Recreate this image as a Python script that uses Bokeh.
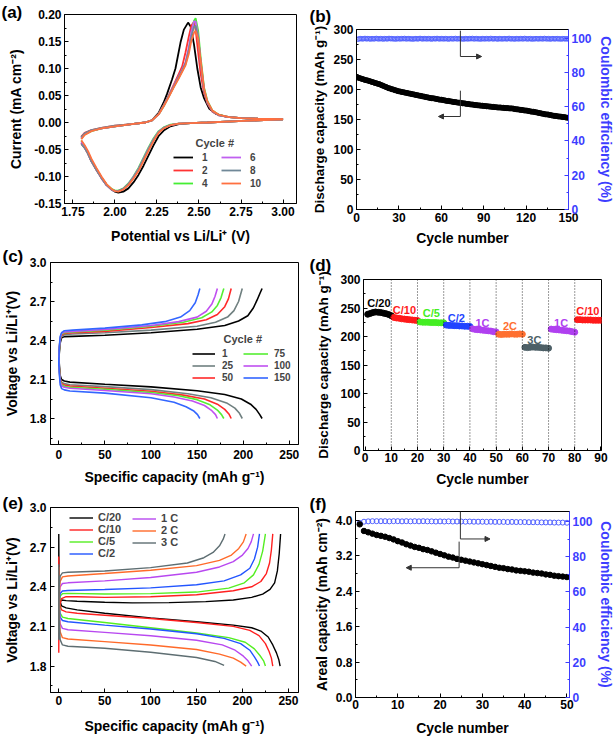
from bokeh.plotting import figure
from bokeh.models import (Range1d, LinearAxis, FixedTicker, Legend, LegendItem,
                          Label, Arrow, NormalHead, Span)
from bokeh.layouts import row, column
from bokeh.embed import file_html
from bokeh.resources import INLINE
from bokeh.core.properties import value

FONT = "Liberation Sans"
BLUE = "#3d3dff"
ARROW = "#333333"

# ---------------- (a) cyclic voltammetry ----------------
cv_labels = ["1", "2", "4", "6", "8", "10"]
cv_colors = ["#000000", "#ff3333", "#44ee33", "#c060f0", "#708898", "#ff7040"]
ox_v_1 = [1.80, 1.82, 1.86, 1.92, 2.00, 2.10, 2.18, 2.22, 2.26, 2.29, 2.31, 2.34, 2.36, 2.39,
          2.41, 2.435, 2.45, 2.47, 2.49, 2.51, 2.53, 2.56, 2.60, 2.66, 2.75, 2.85, 3.00]
ox_i_1 = [-0.028, -0.020, -0.015, -0.011, -0.007, -0.003, 0.000, 0.004, 0.018, 0.037, 0.053,
          0.080, 0.100, 0.148, 0.172, 0.185, 0.178, 0.145, 0.100, 0.065, 0.045, 0.026, 0.016,
          0.011, 0.008, 0.007, 0.006]
ox_v = [1.80, 1.82, 1.86, 1.92, 2.00, 2.10, 2.18, 2.22, 2.26, 2.29, 2.32, 2.35, 2.38, 2.40, 2.42,
        2.44, 2.455, 2.47, 2.48, 2.495, 2.51, 2.53, 2.55, 2.58, 2.62, 2.68, 2.75, 2.85, 3.00]
ox_i_2 = [-0.026, -0.019, -0.014, -0.010, -0.006, -0.003, 0.000, 0.004, 0.016, 0.032, 0.050, 0.070,
          0.090, 0.104, 0.130, 0.160, 0.180, 0.186, 0.172, 0.130, 0.090, 0.055, 0.035, 0.020, 0.013,
          0.010, 0.008, 0.007, 0.006]
ox_i_4 = [-0.030, -0.022, -0.016, -0.011, -0.007, -0.003, 0.000, 0.004, 0.015, 0.030, 0.048, 0.066,
          0.083, 0.095, 0.108, 0.135, 0.165, 0.188, 0.193, 0.170, 0.120, 0.065, 0.040, 0.022, 0.014,
          0.010, 0.008, 0.007, 0.006]
ox_i_6 = [-0.029, -0.021, -0.015, -0.011, -0.007, -0.003, 0.000, 0.004, 0.015, 0.031, 0.049, 0.068,
          0.086, 0.098, 0.112, 0.140, 0.168, 0.187, 0.187, 0.160, 0.112, 0.060, 0.037, 0.021, 0.013,
          0.010, 0.008, 0.007, 0.006]
ox_i_8 = [-0.027, -0.020, -0.014, -0.010, -0.006, -0.003, 0.000, 0.004, 0.016, 0.032, 0.049, 0.067,
          0.085, 0.097, 0.110, 0.135, 0.160, 0.177, 0.179, 0.158, 0.112, 0.060, 0.037, 0.021, 0.013,
          0.010, 0.008, 0.007, 0.006]
ox_i_10 = [-0.031, -0.023, -0.016, -0.011, -0.007, -0.003, 0.000, 0.004, 0.015, 0.030, 0.047, 0.065,
           0.082, 0.094, 0.106, 0.128, 0.152, 0.166, 0.170, 0.155, 0.115, 0.063, 0.039, 0.022, 0.014,
           0.010, 0.008, 0.007, 0.006]
red_v = [3.00, 2.85, 2.70, 2.55, 2.45, 2.38, 2.33, 2.29, 2.26, 2.23, 2.20, 2.17, 2.14, 2.11, 2.08,
         2.05, 2.02, 2.00, 1.98, 1.95, 1.92, 1.89, 1.86, 1.84, 1.82, 1.80]
red_i_1 = [0.006, 0.004, 0.002, 0.000, -0.001, -0.003, -0.007, -0.015, -0.025, -0.042, -0.061, -0.080,
           -0.097, -0.111, -0.122, -0.128, -0.130, -0.128, -0.124, -0.115, -0.102, -0.087, -0.071,
           -0.057, -0.046, -0.038]
red_i_2 = [0.006, 0.004, 0.002, 0.000, -0.001, -0.002, -0.005, -0.010, -0.018, -0.032, -0.050, -0.069,
           -0.088, -0.102, -0.115, -0.123, -0.127, -0.127, -0.124, -0.116, -0.103, -0.088, -0.072,
           -0.058, -0.047, -0.039]
red_i_4 = [0.006, 0.004, 0.002, 0.000, -0.001, -0.002, -0.004, -0.009, -0.016, -0.029, -0.046, -0.065,
           -0.084, -0.100, -0.113, -0.122, -0.126, -0.126, -0.123, -0.115, -0.102, -0.086, -0.070,
           -0.056, -0.044, -0.034]
red_i_6 = [0.006, 0.004, 0.002, 0.000, -0.001, -0.002, -0.005, -0.010, -0.017, -0.031, -0.048, -0.067,
           -0.086, -0.101, -0.114, -0.123, -0.127, -0.127, -0.124, -0.116, -0.103, -0.087, -0.071,
           -0.057, -0.045, -0.036]
red_i_8 = [0.006, 0.004, 0.002, 0.000, -0.001, -0.002, -0.005, -0.010, -0.018, -0.032, -0.049, -0.068,
           -0.087, -0.102, -0.114, -0.123, -0.127, -0.127, -0.124, -0.116, -0.103, -0.088, -0.072,
           -0.058, -0.047, -0.040]
red_i_10 = [0.006, 0.004, 0.002, 0.000, -0.001, -0.002, -0.005, -0.011, -0.019, -0.034, -0.052, -0.071,
            -0.090, -0.104, -0.116, -0.124, -0.128, -0.127, -0.123, -0.114, -0.100, -0.084, -0.067,
            -0.053, -0.042, -0.033]

# ---------------- (b) long cycling ----------------
b_capacity = [220, 219, 218.5, 217.5, 217, 216, 215.5, 215, 214, 213.5,
              212.5, 212, 211, 210.5, 209.5, 209, 208, 207, 206, 205,
              204, 203, 202, 201.5, 200.5, 200, 199, 198.5, 197.5, 197,
              196.5, 196, 195.5, 195, 194.5, 194, 193.5, 193, 192.5, 192,
              191.5, 191, 190.5, 190, 189.5, 189, 188.5, 188, 187.5, 187,
              186.5, 186, 185.5, 185.5, 185, 184.5, 184, 183.5, 183, 183,
              182.5, 182, 181.5, 181, 181, 180.5, 180, 179.5, 179, 179,
              178.5, 178, 178, 177.5, 177, 177, 176.5, 176, 176, 175.5,
              175, 175, 174.5, 174, 174, 173.5, 173.5, 173, 173, 172.5,
              172.5, 172, 172, 171.5, 171.5, 171, 171, 170.5, 170.5, 170,
              170, 170, 169.5, 169.5, 169, 169, 169, 168.5, 168.5, 168.5,
              168, 167.5, 167, 167, 166.5, 166, 166, 165.5, 165, 165,
              164.5, 164, 163.5, 163, 163, 162.5, 162, 161.5, 161, 160.5,
              160, 159.5, 159, 158.5, 158.5, 158, 157.5, 157, 156.5, 156,
              156, 155.5, 155, 155, 154.5, 154, 154, 153.5, 153, 153]
b_ce = [99.3, 99.6, 99.7, 99.5, 99.6, 99.8, 99.5, 99.7, 99.6, 99.4,
        99.7, 99.5, 99.6, 99.8, 99.6, 99.5, 99.7, 99.6, 99.4, 99.7,
        99.6, 99.5, 99.8, 99.6, 99.7, 99.5, 99.6, 99.4, 99.7, 99.6,
        99.5, 99.7, 99.6, 99.8, 99.5, 99.6, 99.7, 99.5, 99.6, 99.4,
        99.6, 99.7, 99.5, 99.6, 99.8, 99.6, 99.5, 99.7, 99.6, 99.5,
        99.7, 99.6, 99.4, 99.6, 99.7, 99.5, 99.8, 99.6, 99.5, 99.7,
        99.6, 99.5, 99.7, 99.6, 99.4, 99.6, 99.7, 99.5, 99.6, 99.8,
        99.5, 99.6, 99.7, 99.5, 99.6, 99.4, 99.7, 99.6, 99.5, 99.7,
        99.6, 99.8, 99.5, 99.6, 99.7, 99.5, 99.6, 99.4, 99.7, 99.6,
        99.5, 99.7, 99.6, 99.5, 99.8, 99.6, 99.5, 99.7, 99.6, 99.4,
        99.7, 99.6, 99.5, 99.6, 99.7, 99.5, 99.6, 99.8, 99.5, 99.6,
        99.6, 99.4, 99.7, 99.6, 99.5, 99.7, 99.6, 99.5, 99.8, 99.6,
        99.5, 99.6, 99.7, 99.4, 99.6, 99.5, 99.7, 99.6, 99.5, 99.7,
        99.6, 99.5, 99.8, 99.6, 99.5, 99.7, 99.4, 99.6, 99.7, 99.5,
        99.6, 99.7, 99.5, 99.6, 99.4, 99.7, 99.6, 99.5, 99.6, 99.5]
b_cycle = list(range(1, len(b_capacity) + 1))
b_arrow_x = [73.5, 73.5]
b_arrow_top = [298, 198]
b_arrow_bot = [255, 155]
b_arrow_end = [88.5, 58]

# ---------------- (c) voltage profiles at selected cycles ----------------
c_labels = ["1", "25", "50", "75", "100", "150"]
c_colors = ["#000000", "#708080", "#ff2a2a", "#55ee33", "#c050f0", "#3366ff"]
c1_chg_q = [0, 0.5, 1.5, 3, 6, 15, 50, 100, 150, 180, 195, 205, 211, 215, 218, 220.5]
c1_chg_v = [2.20, 2.30, 2.38, 2.42, 2.43, 2.432, 2.44, 2.46, 2.487, 2.515, 2.55, 2.59, 2.65, 2.71, 2.76, 2.80]
c1_dis_q = [0, 0.5, 1.5, 3, 6, 12, 50, 100, 150, 180, 198, 208, 214, 218, 220.5]
c1_dis_v = [2.33, 2.22, 2.13, 2.10, 2.088, 2.08, 2.063, 2.043, 2.013, 1.985, 1.95, 1.91, 1.87, 1.83, 1.80]
c25_chg_q = [0, 0.5, 1.5, 3, 6, 15, 50, 100, 150, 170, 183, 190, 195, 199]
c25_chg_v = [2.20, 2.32, 2.40, 2.43, 2.445, 2.45, 2.46, 2.48, 2.51, 2.54, 2.58, 2.63, 2.70, 2.80]
c25_dis_q = [0, 0.5, 1.5, 3, 6, 12, 50, 100, 140, 165, 182, 191, 196, 199]
c25_dis_v = [2.30, 2.20, 2.11, 2.08, 2.068, 2.06, 2.045, 2.022, 1.99, 1.96, 1.92, 1.88, 1.84, 1.80]
c50_chg_q = [0, 0.5, 1.5, 3, 6, 15, 50, 100, 140, 160, 172, 180, 184, 187]
c50_chg_v = [2.20, 2.33, 2.41, 2.44, 2.455, 2.46, 2.47, 2.50, 2.53, 2.56, 2.60, 2.66, 2.72, 2.80]
c50_dis_q = [0, 0.5, 1.5, 3, 6, 12, 50, 100, 135, 158, 172, 180, 184.5, 187]
c50_dis_v = [2.29, 2.19, 2.10, 2.07, 2.058, 2.05, 2.033, 2.01, 1.98, 1.95, 1.91, 1.87, 1.835, 1.80]
c75_chg_q = [0, 0.5, 1.5, 3, 6, 15, 50, 100, 135, 155, 166, 172, 176, 179]
c75_chg_v = [2.20, 2.33, 2.42, 2.45, 2.46, 2.465, 2.48, 2.51, 2.54, 2.575, 2.62, 2.67, 2.73, 2.80]
c75_dis_q = [0, 0.5, 1.5, 3, 6, 12, 50, 100, 130, 150, 164, 172, 176.5, 179]
c75_dis_v = [2.29, 2.18, 2.09, 2.06, 2.048, 2.04, 2.025, 2.0, 1.975, 1.945, 1.905, 1.865, 1.83, 1.80]
c100_chg_q = [0, 0.5, 1.5, 3, 6, 15, 50, 100, 130, 150, 160, 166, 169.5, 172]
c100_chg_v = [2.20, 2.34, 2.42, 2.455, 2.465, 2.47, 2.485, 2.515, 2.545, 2.58, 2.625, 2.68, 2.74, 2.80]
c100_dis_q = [0, 0.5, 1.5, 3, 6, 12, 50, 100, 125, 145, 158, 166, 170, 172]
c100_dis_v = [2.28, 2.17, 2.08, 2.05, 2.04, 2.033, 2.015, 1.99, 1.965, 1.935, 1.90, 1.86, 1.83, 1.80]
c150_chg_q = [0, 0.5, 1.5, 3, 6, 15, 50, 90, 115, 132, 142, 148, 151, 153]
c150_chg_v = [2.20, 2.35, 2.43, 2.46, 2.475, 2.48, 2.495, 2.52, 2.545, 2.58, 2.63, 2.69, 2.75, 2.80]
c150_dis_q = [0, 0.5, 1.5, 3, 6, 12, 50, 100, 125, 138, 146, 150.5, 153]
c150_dis_v = [2.27, 2.15, 2.06, 2.03, 2.02, 2.012, 1.995, 1.96, 1.925, 1.89, 1.86, 1.83, 1.80]

# ---------------- (d) rate capability ----------------
d_rates = ["C/20", "C/10", "C/5", "C/2", "1C", "2C", "3C", "1C", "C/10"]
d_rate_colors = ["#000000", "#ff1a1a", "#44ee22", "#2244ff", "#b040f0", "#ff7030", "#4d5f66",
                 "#b040f0", "#ff1a1a"]
d_capacity = [239, 240.5, 242, 243, 242.5, 242, 241, 240, 238.5, 236.5,
              233.5, 232.5, 232, 231, 230.5, 230, 229.5, 229, 228.5, 228,
              225.5, 225, 225, 225, 224.5, 224.5, 224.5, 224, 224, 224,
              220, 219.5, 219.5, 219, 219, 218.5, 218.5, 218, 218, 217.5,
              213.5, 212.5, 212, 211.5, 211, 210.5, 210, 209.5, 208.5, 208,
              204, 203.5, 204, 204, 204, 204.5, 204, 204, 204.5, 204,
              181, 180.5, 181, 181.5, 181, 181, 180.5, 180, 180, 179.5,
              213, 212.5, 212, 211.5, 211, 210.5, 210, 209.5, 208.5, 207.5,
              229.5, 229.5, 229, 229, 229, 229, 228.5, 228.5, 228.5, 228.5]
d_cycle = list(range(1, len(d_capacity) + 1))
d_label_x = [5.3, 15, 25.3, 34.8, 44.8, 55.3, 64.6, 74.8, 85]
d_label_y = [259, 247, 241, 232.5, 224.5, 218.5, 194.5, 224.5, 245]
d_dividers = [10, 20, 30, 40, 50, 60, 70, 80]

# ---------------- (e) voltage profiles at different rates ----------------
e_labels = ["C/20", "C/10", "C/5", "C/2", "1 C", "2 C", "3 C"]
e_colors = ["#000000", "#ff2020", "#55ee22", "#2255ff", "#b848f0", "#ff6a2a", "#5e6e72"]
e1_chg_q = [0, 0.3, 1, 3, 8, 20, 50, 80, 120, 160, 190, 210, 222, 230, 235, 238, 240, 241.5]
e1_chg_v = [2.22, 2.26, 2.28, 2.30, 2.295, 2.29, 2.283, 2.278, 2.28, 2.288, 2.30, 2.32, 2.345, 2.38, 2.43, 2.52, 2.65, 2.80]
e1_dis_q = [0, 0.3, 1, 3, 8, 20, 50, 100, 150, 190, 210, 220, 228, 233, 237, 239.5, 241]
e1_dis_v = [2.80, 2.45, 2.30, 2.255, 2.24, 2.225, 2.20, 2.165, 2.135, 2.11, 2.09, 2.065, 2.02, 1.96, 1.90, 1.85, 1.80]
e2_chg_q = [0, 0.3, 1, 3, 8, 20, 50, 100, 150, 190, 210, 220, 226, 229.5, 231.5, 233]
e2_chg_v = [1.90, 2.15, 2.26, 2.31, 2.325, 2.325, 2.32, 2.325, 2.34, 2.37, 2.40, 2.44, 2.50, 2.58, 2.68, 2.80]
e2_dis_q = [0, 0.3, 1, 3, 8, 20, 50, 100, 150, 190, 208, 218, 225, 229, 231.5, 233]
e2_dis_v = [2.63, 2.40, 2.27, 2.225, 2.21, 2.20, 2.185, 2.16, 2.13, 2.10, 2.07, 2.03, 1.97, 1.91, 1.86, 1.80]
e3_chg_q = [0, 0.5, 1.5, 4, 10, 50, 100, 150, 185, 202, 212, 218, 222, 225]
e3_chg_v = [2.15, 2.28, 2.33, 2.348, 2.35, 2.345, 2.348, 2.36, 2.39, 2.43, 2.49, 2.57, 2.67, 2.80]
e3_dis_q = [0, 0.5, 1.5, 4, 10, 50, 100, 150, 185, 203, 213, 219, 223, 225]
e3_dis_v = [2.42, 2.28, 2.20, 2.17, 2.16, 2.13, 2.09, 2.05, 2.015, 1.98, 1.93, 1.88, 1.84, 1.80]
e4_chg_q = [0, 0.5, 1.5, 4, 10, 50, 100, 150, 180, 198, 208, 213, 216.5, 218.5]
e4_chg_v = [2.15, 2.30, 2.35, 2.368, 2.372, 2.38, 2.392, 2.415, 2.445, 2.49, 2.54, 2.61, 2.70, 2.80]
e4_dis_q = [0, 0.5, 1.5, 4, 10, 50, 100, 150, 180, 198, 208, 213, 216.5, 218.5]
e4_dis_v = [2.38, 2.25, 2.17, 2.145, 2.135, 2.11, 2.08, 2.045, 2.01, 1.97, 1.92, 1.87, 1.83, 1.80]
e5_chg_q = [0, 0.5, 1.5, 4, 10, 50, 100, 150, 175, 190, 200, 206, 209.5, 212]
e5_chg_v = [2.10, 2.33, 2.40, 2.425, 2.43, 2.445, 2.47, 2.51, 2.55, 2.59, 2.64, 2.69, 2.74, 2.80]
e5_dis_q = [0, 0.5, 1.5, 4, 10, 50, 100, 150, 178, 192, 201, 206, 210]
e5_dis_v = [2.45, 2.25, 2.12, 2.085, 2.075, 2.055, 2.03, 1.995, 1.96, 1.92, 1.875, 1.84, 1.80]
e6_chg_q = [0, 0.5, 1.5, 4, 10, 50, 100, 150, 175, 188, 196, 201, 204]
e6_chg_v = [2.05, 2.35, 2.44, 2.475, 2.482, 2.50, 2.525, 2.56, 2.60, 2.64, 2.69, 2.74, 2.80]
e6_dis_q = [0, 0.5, 1.5, 4, 10, 50, 100, 150, 175, 190, 198, 204]
e6_dis_v = [2.55, 2.20, 2.06, 2.015, 2.005, 1.985, 1.96, 1.925, 1.89, 1.86, 1.83, 1.80]
e7_chg_q = [0, 0.5, 1.5, 4, 10, 50, 100, 140, 158, 168, 175, 179, 181]
e7_chg_v = [2.00, 2.40, 2.48, 2.505, 2.51, 2.52, 2.545, 2.58, 2.62, 2.66, 2.71, 2.76, 2.80]
e7_dis_q = [0, 0.5, 1.5, 4, 10, 50, 100, 150, 170, 180]
e7_dis_v = [2.57, 2.15, 2.00, 1.96, 1.95, 1.935, 1.905, 1.865, 1.835, 1.805]

# ---------------- (f) areal capacity ----------------
f_capacity = [3.91, 3.76, 3.73, 3.70, 3.67, 3.65, 3.63, 3.60, 3.57, 3.53,
              3.50, 3.46, 3.43, 3.40, 3.38, 3.35, 3.33, 3.30, 3.27, 3.24,
              3.21, 3.18, 3.16, 3.13, 3.11, 3.09, 3.07, 3.05, 3.03, 3.01,
              2.99, 2.97, 2.95, 2.93, 2.92, 2.90, 2.89, 2.87, 2.86, 2.85,
              2.84, 2.82, 2.81, 2.80, 2.78, 2.77, 2.75, 2.74, 2.73, 2.72]
f_ce = [99.2, 99.9, 100.1, 100.2, 100.2, 100.2, 100.2, 100.1, 100.2, 100.2,
        100.1, 100.2, 100.1, 100.2, 100.1, 100.2, 100.1, 100.1, 100.0, 100.1,
        100.0, 100.1, 100.0, 100.0, 100.0, 99.9, 100.0, 99.9, 99.9, 99.9,
        99.8, 99.9, 99.8, 99.8, 99.8, 99.7, 99.8, 99.7, 99.7, 99.7,
        99.6, 99.6, 99.6, 99.5, 99.5, 99.5, 99.4, 99.4, 99.4, 99.3]
f_cycle = list(range(1, len(f_capacity) + 1))
f_arrow_x = [24.8, 24.5]
f_arrow_top = [4.2, 3.52]
f_arrow_bot = [3.58, 2.93]
f_arrow_end = [31.8, 12.0]


# ---------------- helpers ----------------
def mkfig(w, h, xr, yr, l, r, t, b):
    p = figure(width=w, height=h, x_range=Range1d(*xr), y_range=Range1d(*yr),
               output_backend="svg", toolbar_location=None,
               min_border_left=l, min_border_right=r, min_border_top=t, min_border_bottom=b)
    p.xgrid.visible = False
    p.ygrid.visible = False
    p.outline_line_color = "#000000"
    p.outline_line_width = 1
    p.background_fill_color = "white"
    p.border_fill_color = "white"
    return p


def sty(ax, ticks, labels, minor, title, color="#000000", ts=3, ls=4, lsize="14px"):
    ax.ticker = FixedTicker(ticks=ticks, minor_ticks=minor)
    ax.major_label_overrides = dict(zip(ticks, labels))
    ax.axis_label = title
    ax.axis_label_text_font = FONT
    ax.axis_label_text_font_style = "bold"
    ax.axis_label_text_font_size = lsize
    ax.axis_label_text_color = color
    ax.axis_label_standoff = ls
    ax.major_label_text_font = FONT
    ax.major_label_text_font_style = "bold"
    ax.major_label_text_font_size = "12px"
    ax.major_label_text_color = color
    ax.major_label_standoff = ts
    ax.major_tick_in = 4
    ax.major_tick_out = 0
    ax.minor_tick_in = 2
    ax.minor_tick_out = 0
    ax.axis_line_color = color
    ax.major_tick_line_color = color
    ax.minor_tick_line_color = color


def letter(p, txt, offset, standoff):
    p.title.text = txt
    p.title.align = "left"
    p.title.offset = offset
    p.title.standoff = standoff
    p.title.text_font = FONT
    p.title.text_font_style = "bold"
    p.title.text_font_size = "17px"
    p.title.text_color = "#000000"


def caption(p, txt, x, y, size="11px"):
    p.add_layout(Label(x=x, y=y, x_units="screen", y_units="screen", text=txt,
                       text_font=FONT, text_font_style="bold", text_font_size=size,
                       text_baseline="middle", text_align="left"))


def legend(p, items, loc, gw, standoff, size="10px", lh=12, spacing=1):
    lg = Legend(items=items, location=loc, orientation="vertical",
                background_fill_alpha=0, border_line_color=None, padding=0, margin=0,
                spacing=spacing, glyph_width=gw, glyph_height=lh, label_height=lh,
                label_standoff=standoff, label_text_font=FONT, label_text_font_style="bold",
                label_text_font_size=size)
    p.add_layout(lg)


def ce_axis(p, yr_top, ls):
    p.extra_y_ranges = {"ce": Range1d(0, yr_top)}
    ax = LinearAxis(y_range_name="ce")
    p.add_layout(ax, "right")
    sty(ax, [0, 20, 40, 60, 80, 100], ["0", "20", "40", "60", "80", "100"],
        [10, 30, 50, 70, 90], "Coulombic efficiency (%)", color=BLUE, ts=3, ls=ls)


# ---------------- (a) ----------------
pa = mkfig(302, 248, (1.70, 3.08), (-0.15, 0.20), 64, 6, 14, 45)
sty(pa.xaxis[0], [1.75, 2.0, 2.25, 2.5, 2.75, 3.0], ["1.75", "2.00", "2.25", "2.50", "2.75", "3.00"],
    [1.875, 2.125, 2.375, 2.625, 2.875], "Potential vs Li/Li\u207a (V)", ts=3, ls=9)
sty(pa.yaxis[0], [-0.15, -0.1, -0.05, 0.0, 0.05, 0.1, 0.15, 0.2],
    ["-0.15", "-0.10", "-0.05", "0.00", "0.05", "0.10", "0.15", "0.20"],
    [-0.125, -0.075, -0.025, 0.025, 0.075, 0.125, 0.175], "Current (mA cm\u207b\u00b2)", ts=3, ls=7)
cv_ox_v = [ox_v_1, ox_v, ox_v, ox_v, ox_v, ox_v]
cv_ox_i = [ox_i_1, ox_i_2, ox_i_4, ox_i_6, ox_i_8, ox_i_10]
cv_red_i = [red_i_1, red_i_2, red_i_4, red_i_6, red_i_8, red_i_10]
cv_r = []
for vx, iy, ri, col in zip(cv_ox_v, cv_ox_i, cv_red_i, cv_colors):
    cv_r.append(pa.line(vx + red_v, iy + ri, line_color=col, line_width=1.8))
legend(pa, [LegendItem(label=l, renderers=[r]) for l, r in zip(cv_labels[:3], cv_r[:3])],
       (109, 14), 20, 9)
legend(pa, [LegendItem(label=l, renderers=[r]) for l, r in zip(cv_labels[3:], cv_r[3:])],
       (157, 14), 20, 9)
caption(pa, "Cycle #", 131, 61)
letter(pa, "(a)", -63, -14)

# ---------------- (b) ----------------
pb = mkfig(314, 248, (0, 150), (0, 300), 54, 43, 29, 38)
sty(pb.xaxis[0], [0, 30, 60, 90, 120, 150], ["0", "30", "60", "90", "120", "150"],
    [15, 45, 75, 105, 135], "Cycle number", ts=3, ls=5)
sty(pb.yaxis[0], [0, 50, 100, 150, 200, 250, 300], ["0", "50", "100", "150", "200", "250", "300"],
    [25, 75, 125, 175, 225, 275], "Discharge capacity (mAh g\u207b\u00b9)", ts=3, ls=3,
    lsize="13.5px")
ce_axis(pb, 105, 3)
pb.scatter(b_cycle, b_ce, y_range_name="ce", marker="circle", size=4.5, fill_color=None,
           line_color="#5060ff", line_width=0.9)
pb.scatter(b_cycle, b_capacity, marker="circle", size=5, fill_color="#000000", line_color="#000000")
pb.segment(x0=b_arrow_x, y0=b_arrow_top, x1=b_arrow_x, y1=b_arrow_bot, line_color=ARROW, line_width=1)
for x0, y0, x1 in zip(b_arrow_x, b_arrow_bot, b_arrow_end):
    pb.add_layout(Arrow(x_start=x0, y_start=y0, x_end=x1, y_end=y0, line_color=ARROW, line_width=1,
                        end=NormalHead(size=5, fill_color=ARROW, line_color=ARROW)))
letter(pb, "(b)", -47, 8)

# ---------------- (c) ----------------
pc = mkfig(302, 242, (-9, 260), (1.6, 3.0), 49, 4, 14, 46)
sty(pc.xaxis[0], [0, 50, 100, 150, 200, 250], ["0", "50", "100", "150", "200", "250"],
    [25, 75, 125, 175, 225], "Specific capacity (mAh g\u207b\u00b9)", ts=5, ls=7)
sty(pc.yaxis[0], [1.8, 2.1, 2.4, 2.7, 3.0], ["1.8", "2.1", "2.4", "2.7", "3.0"],
    [1.65, 1.95, 2.25, 2.55, 2.85], "Voltage vs Li/Li\u207a(V)", ts=4, ls=7)
c_chg_q = [c1_chg_q, c25_chg_q, c50_chg_q, c75_chg_q, c100_chg_q, c150_chg_q]
c_chg_v = [c1_chg_v, c25_chg_v, c50_chg_v, c75_chg_v, c100_chg_v, c150_chg_v]
c_dis_q = [c1_dis_q, c25_dis_q, c50_dis_q, c75_dis_q, c100_dis_q, c150_dis_q]
c_dis_v = [c1_dis_v, c25_dis_v, c50_dis_v, c75_dis_v, c100_dis_v, c150_dis_v]
c_r = []
for cq, cv, dq, dv, col in zip(c_chg_q, c_chg_v, c_dis_q, c_dis_v, c_colors):
    c_r.append(pc.line(dq[::-1] + cq, dv[::-1] + cv, line_color=col, line_width=1.6))
legend(pc, [LegendItem(label=l, renderers=[r]) for l, r in zip(c_labels[:3], c_r[:3])],
       (142, 61), 23, 7, lh=11, spacing=1)
legend(pc, [LegendItem(label=l, renderers=[r]) for l, r in zip(c_labels[3:], c_r[3:])],
       (193, 61), 25, 6, lh=11, spacing=1)
caption(pc, "Cycle #", 173, 106)
letter(pc, "(c)", -48, -7)

# ---------------- (d) ----------------
pd_ = mkfig(314, 242, (-0.6, 90.2), (0, 300), 61, 15, 31, 40)
sty(pd_.xaxis[0], [0, 10, 20, 30, 40, 50, 60, 70, 80, 90],
    ["0", "10", "20", "30", "40", "50", "60", "70", "80", "90"],
    [5, 15, 25, 35, 45, 55, 65, 75, 85], "Cycle number", ts=2, ls=6)
sty(pd_.yaxis[0], [0, 50, 100, 150, 200, 250, 300], ["0", "50", "100", "150", "200", "250", "300"],
    [25, 75, 125, 175, 225, 275], "Discharge capacity (mAh g\u207b\u00b9)", ts=3, ls=6,
    lsize="13.5px")
for xv in d_dividers:
    pd_.add_layout(Span(location=xv, dimension="height", line_color="#000000", line_width=0.8,
                        line_dash="1 2"))
d_point_colors = [d_rate_colors[(c - 1) // 10] for c in d_cycle]
pd_.scatter(d_cycle, d_capacity, marker="circle", size=6, fill_color=d_point_colors,
            line_color=d_point_colors)
pd_.text(d_label_x, d_label_y, text=d_rates, text_color=d_rate_colors, text_font=value(FONT),
         text_font_style="bold", text_font_size="11px", text_align="center", text_baseline="middle")
letter(pd_, "(d)", -54, 10)

# ---------------- (e) ----------------
pe = mkfig(302, 248, (-9, 261), (1.6, 3.0), 49, 4, 17, 46)
sty(pe.xaxis[0], [0, 50, 100, 150, 200, 250], ["0", "50", "100", "150", "200", "250"],
    [25, 75, 125, 175, 225], "Specific capacity (mAh g\u207b\u00b9)", ts=3, ls=10)
sty(pe.yaxis[0], [1.8, 2.1, 2.4, 2.7, 3.0], ["1.8", "2.1", "2.4", "2.7", "3.0"],
    [1.65, 1.95, 2.25, 2.55, 2.85], "Voltage vs Li/Li\u207a(V)", ts=4, ls=7)
e_chg_q = [e1_chg_q, e2_chg_q, e3_chg_q, e4_chg_q, e5_chg_q, e6_chg_q, e7_chg_q]
e_chg_v = [e1_chg_v, e2_chg_v, e3_chg_v, e4_chg_v, e5_chg_v, e6_chg_v, e7_chg_v]
e_dis_q = [e1_dis_q, e2_dis_q, e3_dis_q, e4_dis_q, e5_dis_q, e6_dis_q, e7_dis_q]
e_dis_v = [e1_dis_v, e2_dis_v, e3_dis_v, e4_dis_v, e5_dis_v, e6_dis_v, e7_dis_v]
e_r = []
for cq, cv, dq, dv, col in zip(e_chg_q, e_chg_v, e_dis_q, e_dis_v, e_colors):
    e_r.append(pe.line(dq[::-1] + cq, dv[::-1] + cv, line_color=col, line_width=1.4))
legend(pe, [LegendItem(label=l, renderers=[r]) for l, r in zip(e_labels[:4], e_r[:4])],
       (19, 133), 24, 5, size="11px", lh=11, spacing=0)
legend(pe, [LegendItem(label=l, renderers=[r]) for l, r in zip(e_labels[4:], e_r[4:])],
       (82, 133 + 11), 24, 5, size="11px", lh=11, spacing=0)
letter(pe, "(e)", -48, -11)

# ---------------- (f) ----------------
pf = mkfig(314, 248, (0, 50.6), (0, 4.2), 53, 42, 21, 41)
sty(pf.xaxis[0], [0, 10, 20, 30, 40, 50], ["0", "10", "20", "30", "40", "50"],
    [5, 15, 25, 35, 45], "Cycle number", ts=2, ls=8)
sty(pf.yaxis[0], [0.0, 0.8, 1.6, 2.4, 3.2, 4.0], ["0.0", "0.8", "1.6", "2.4", "3.2", "4.0"],
    [0.4, 1.2, 2.0, 2.8, 3.6], "Areal capacity (mAh cm\u207b\u00b2)", ts=3, ls=3)
ce_axis(pf, 105.7, 2)
pf.scatter(f_cycle, f_ce, y_range_name="ce", marker="circle", size=5, fill_color=None,
           line_color="#5060ff", line_width=1)
pf.scatter(f_cycle, f_capacity, marker="circle", size=5.5, fill_color="#000000", line_color="#000000")
pf.segment(x0=f_arrow_x, y0=f_arrow_top, x1=f_arrow_x, y1=f_arrow_bot, line_color=ARROW, line_width=1)
for x0, y0, x1 in zip(f_arrow_x, f_arrow_bot, f_arrow_end):
    pf.add_layout(Arrow(x_start=x0, y_start=y0, x_end=x1, y_end=y0, line_color=ARROW, line_width=1,
                        end=NormalHead(size=5, fill_color=ARROW, line_color=ARROW)))
letter(pf, "(f)", -46, -4)

# each figure sits in its own column so that the row does not align the plot frames
layout = column(
    row(column(pa), column(pb), spacing=0),
    row(column(pc), column(pd_), spacing=0),
    row(column(pe), column(pf), spacing=0),
    spacing=0)
open("out.html", "w").write(file_html(layout, INLINE))
